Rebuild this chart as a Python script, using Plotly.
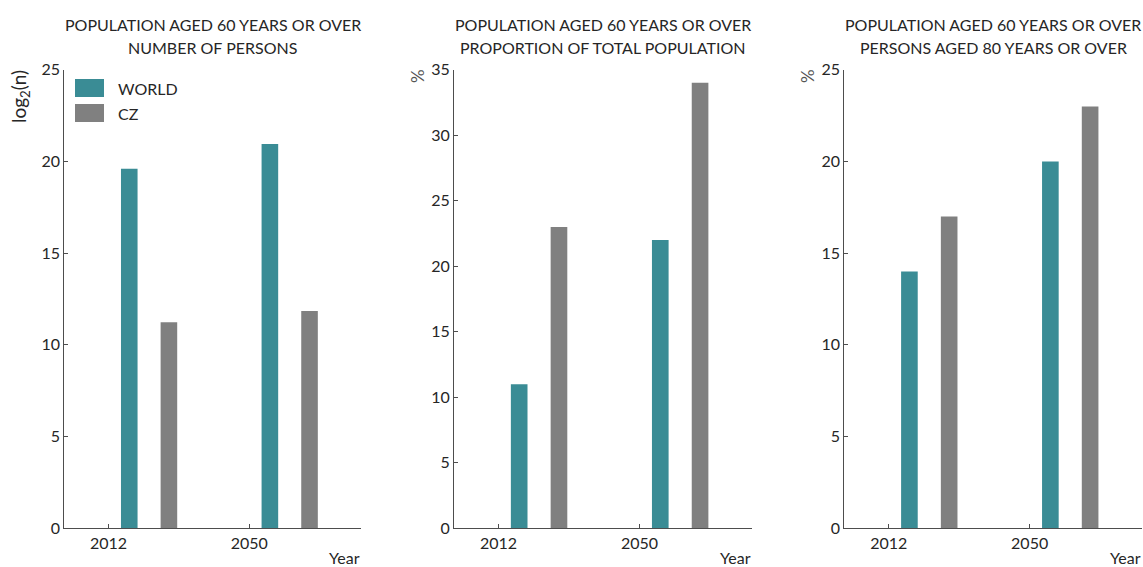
import plotly.graph_objects as go

# Data
years = ["2012", "2050"]
world_log2_persons = [19.6, 20.95]
cz_log2_persons = [11.23, 11.84]
world_pct_total = [11, 22]
cz_pct_total = [23, 34]
world_pct_80plus = [14, 20]
cz_pct_80plus = [17, 23]

title_line1 = "POPULATION AGED 60 YEARS OR OVER"
panel_subtitles = [
    "NUMBER OF PERSONS",
    "PROPORTION OF TOTAL POPULATION",
    "PERSONS AGED 80 YEARS OR OVER",
]
y_ranges = [(0, 25), (0, 35), (0, 25)]

TEAL = "#3A8C95"
GRAY = "#808080"
TEXT = "#262626"
AXIS = "#4d4d4d"
FONT = "Lato"
FS = 16

W, H = 1143, 567
x_px = [(64.3, 361.0), (454.0, 751.7), (844.3, 1141.7)]
y_dom = [(567 - 528.3) / 567, (567 - 69.7) / 567]

fig = go.Figure()
series = [
    (world_log2_persons, cz_log2_persons),
    (world_pct_total, cz_pct_total),
    (world_pct_80plus, cz_pct_80plus),
]

for i, (w_vals, c_vals) in enumerate(series):
    sfx = "" if i == 0 else str(i + 1)
    fig.add_trace(go.Bar(x=years, y=w_vals, name="WORLD", marker_color=TEAL,
                         width=0.118, offset=0.088, xaxis="x" + sfx, yaxis="y" + sfx,
                         showlegend=False, marker_line_width=0))
    fig.add_trace(go.Bar(x=years, y=c_vals, name="CZ", marker_color=GRAY,
                         width=0.118, offset=0.37, xaxis="x" + sfx, yaxis="y" + sfx,
                         showlegend=False, marker_line_width=0))

layout = dict(
    width=W, height=H,
    margin=dict(l=0, r=0, t=0, b=0, autoexpand=False),
    paper_bgcolor="white", plot_bgcolor="white",
    font=dict(family=FONT, size=FS, color=TEXT),
    barmode="overlay",
)
annotations = []
shapes = []


def paper_y(py):
    return 1 - py / H


for i in range(3):
    sfx = "" if i == 0 else str(i + 1)
    x0, x1 = x_px[i]
    layout["xaxis" + sfx] = dict(
        domain=[x0 / W, x1 / W], anchor="y" + sfx, type="category",
        range=[-0.315, 1.795], showline=True, linecolor=AXIS, linewidth=1,
        ticks="inside", ticklen=4, tickcolor=AXIS, showgrid=False, zeroline=False,
        tickfont=dict(size=FS, color=TEXT), fixedrange=True, automargin=False,
    )
    layout["yaxis" + sfx] = dict(
        domain=list(y_dom), anchor="x" + sfx, range=list(y_ranges[i]), dtick=5,
        showline=True, linecolor=AXIS, linewidth=1, ticks="inside", ticklen=4,
        tickcolor=AXIS, showgrid=False, zeroline=False,
        tickfont=dict(size=FS, color=TEXT), fixedrange=True, automargin=False,
    )
    cx = (x0 + x1) / 2 / W
    annotations.append(dict(text=title_line1, x=cx, y=paper_y(24), xref="paper", yref="paper",
                            xanchor="center", yanchor="middle", showarrow=False,
                            font=dict(size=FS, color=TEXT)))
    annotations.append(dict(text=panel_subtitles[i], x=cx, y=paper_y(47), xref="paper", yref="paper",
                            xanchor="center", yanchor="middle", showarrow=False,
                            font=dict(size=FS, color=TEXT)))
    annotations.append(dict(text="Year", x=(x1 + 1) / W, y=paper_y(557), xref="paper", yref="paper",
                            xanchor="right", yanchor="middle", showarrow=False,
                            font=dict(size=FS, color=TEXT)))

# y-axis titles
annotations.append(dict(text="log<sub>2</sub>(n)", x=20 / W, y=paper_y(97), xref="paper", yref="paper",
                        textangle=-90, xanchor="center", yanchor="middle", showarrow=False,
                        font=dict(size=19, color=TEXT)))
for px in (417, 807):
    annotations.append(dict(text="%", x=px / W, y=paper_y(76), xref="paper", yref="paper",
                            textangle=-90, xanchor="center", yanchor="middle", showarrow=False,
                            font=dict(size=17, color="#555555")))

# legend
for j, (label, col) in enumerate([("WORLD", TEAL), ("CZ", GRAY)]):
    yt = 79 + 25 * j
    shapes.append(dict(type="rect", xref="paper", yref="paper",
                       x0=75 / W, x1=104 / W, y0=paper_y(yt + 18), y1=paper_y(yt),
                       fillcolor=col, line=dict(width=0)))
    annotations.append(dict(text=label, x=116 / W, y=paper_y(yt + 9.5), xref="paper", yref="paper",
                            xanchor="left", yanchor="middle", showarrow=False,
                            font=dict(size=FS, color=TEXT)))

layout["annotations"] = annotations
layout["shapes"] = shapes
fig.update_layout(**layout)
fig.write_html("out.html")
